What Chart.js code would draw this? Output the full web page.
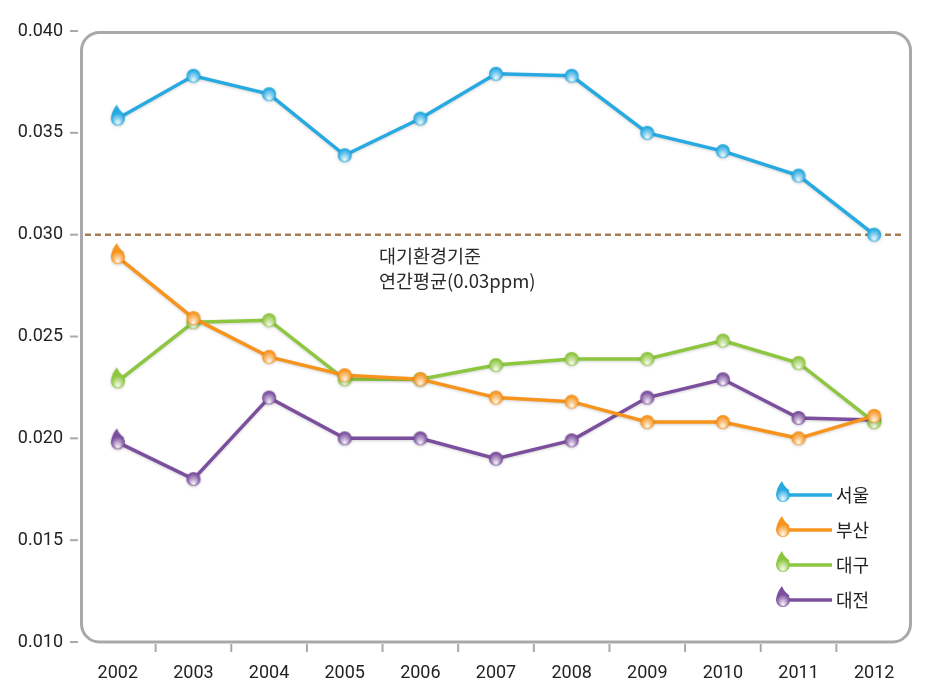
<!DOCTYPE html>
<html>
<head>
<meta charset="utf-8">
<script src="https://cdn.jsdelivr.net/npm/chart.js@4"></script>
<style>
  body { margin: 0; background: #fff; }
</style>
</head>
<body>
<canvas id="no2-chart" width="939" height="692"></canvas>
<script>
const years = ["2002", "2003", "2004", "2005", "2006", "2007", "2008", "2009", "2010", "2011", "2012"];
const seoul = [0.0357, 0.0378, 0.0369, 0.0339, 0.0357, 0.0379, 0.0378, 0.0350, 0.0341, 0.0329, 0.0300];
const busan = [0.0289, 0.0259, 0.0240, 0.0231, 0.0229, 0.0220, 0.0218, 0.0208, 0.0208, 0.0200, 0.0211];
const daegu = [0.0228, 0.0257, 0.0258, 0.0229, 0.0229, 0.0236, 0.0239, 0.0239, 0.0248, 0.0237, 0.0208];
const daejeon = [0.0198, 0.0180, 0.0220, 0.0200, 0.0200, 0.0190, 0.0199, 0.0220, 0.0229, 0.0210, 0.0209];
const seriesNames = ["서울", "부산", "대구", "대전"];
const seriesColors = ["#27aae1", "#f7941d", "#8dc63f", "#7b4f9d"];
const standardValue = 0.030;
const standardText = ["대기환경기준", "연간평균(0.03ppm)"];

const korFont = "'Noto Sans CJK KR', 'Noto Sans', sans-serif";

// glossy droplet / ball markers
var makeMarker = function (color, drop) {
  var c = document.createElement("canvas");
  c.width = 20;
  c.height = 32;
  var g = c.getContext("2d");
  var grad = g.createRadialGradient(10, 21, 0, 10, 15, 9);
  grad.addColorStop(0, "rgba(255,255,255,0.95)");
  grad.addColorStop(0.7, color);
  grad.addColorStop(1, color);
  g.fillStyle = grad;
  g.beginPath();
  if (drop) {
    g.moveTo(9, 2);
    g.quadraticCurveTo(10.5, 7, 16.5, 11.5);
    g.arc(10, 16, 7, -0.6, Math.PI + 0.2, false);
    g.quadraticCurveTo(4, 8, 9, 2);
  } else {
    g.arc(10, 16, 7, 0, Math.PI * 2);
  }
  g.fill();
  return c;
};

const dropMarkers = seriesColors.map((c) => makeMarker(c, true));
const ballMarkers = seriesColors.map((c) => makeMarker(c, false));

const allSeries = [seoul, busan, daegu, daejeon];

var frame = {
  id: "frame",
  beforeDatasetsDraw(chart) {
    const { ctx, chartArea: a, scales } = chart;
    ctx.save();
    ctx.strokeStyle = "#a9a9a9";
    ctx.lineWidth = 3;
    ctx.beginPath();
    ctx.roundRect(a.left + 1.5, a.top + 1.5, a.right - a.left - 3, a.bottom - a.top - 1.5, 18);
    ctx.stroke();

    // y tick marks
    ctx.lineWidth = 2;
    scales.y.ticks.forEach((t) => {
      const y = scales.y.getPixelForValue(t.value);
      ctx.beginPath();
      ctx.moveTo(a.left - 10, y);
      ctx.lineTo(a.left - 2, y);
      ctx.stroke();
    });
    // x tick marks between years
    for (let i = 0; i < years.length - 1; i++) {
      const x = (scales.x.getPixelForValue(i) + scales.x.getPixelForValue(i + 1)) / 2;
      ctx.beginPath();
      ctx.moveTo(x, a.bottom + 2);
      ctx.lineTo(x, a.bottom + 10);
      ctx.stroke();
    }

    // standard line
    const sy = scales.y.getPixelForValue(standardValue);
    ctx.strokeStyle = "#a67c52";
    ctx.lineWidth = 2.5;
    ctx.setLineDash([6, 4]);
    ctx.beginPath();
    ctx.moveTo(a.left + 5, sy);
    ctx.lineTo(a.right - 8, sy);
    ctx.stroke();
    ctx.setLineDash([]);

    ctx.fillStyle = "#2a2a2a";
    ctx.font = "18.5px " + korFont;
    ctx.textBaseline = "middle";
    ctx.fillText(standardText[0], 379, sy + 21);
    ctx.fillText(standardText[1], 379, sy + 46);
    ctx.restore();
  },
  beforeDatasetDraw(chart) {
    chart.ctx.save();
    chart.ctx.shadowColor = "rgba(0,0,0,0.18)";
    chart.ctx.shadowBlur = 3;
    chart.ctx.shadowOffsetY = 1;
  },
  afterDatasetDraw(chart) {
    chart.ctx.restore();
  },
  afterDraw(chart) {
    const ctx = chart.ctx;
    ctx.save();
    seriesNames.forEach((name, i) => {
      const y = 495 + i * 35;
      ctx.strokeStyle = seriesColors[i];
      ctx.lineWidth = 3.5;
      ctx.beginPath();
      ctx.moveTo(786, y);
      ctx.lineTo(832, y);
      ctx.stroke();
      ctx.drawImage(dropMarkers[i], 783 - 10, y - 16);
      ctx.fillStyle = "#222";
      ctx.font = "18px " + korFont;
      ctx.textBaseline = "middle";
      ctx.fillText(name, 836, y);
    });
    ctx.restore();
  },
};

new Chart("no2-chart", {
  type: "line",
  data: {
    labels: years,
    datasets: allSeries.map((values, i) => ({
      label: seriesNames[i],
      data: values,
      borderColor: seriesColors[i],
      borderWidth: 3.5,
      tension: 0,
      pointStyle: (c) => (c.dataIndex === 0 ? dropMarkers[i] : ballMarkers[i]),
    })),
  },
  options: {
    responsive: false,
    animation: false,
    layout: { padding: { top: 31, right: 27 } },
    plugins: {
      legend: { display: false },
      tooltip: { enabled: false },
    },
    scales: {
      x: {
        offset: true,
        grid: { display: false },
        border: { display: false },
        ticks: {
          color: "#222",
          padding: 13,
          font: { family: "Roboto", size: 18 },
        },
        afterFit(s) { s.height = 50; },
      },
      y: {
        min: 0.010,
        max: 0.040,
        grid: { display: false },
        border: { display: false },
        ticks: {
          stepSize: 0.005,
          color: "#222",
          padding: 9,
          font: { family: "Roboto", size: 18 },
          callback: (v) => v.toFixed(3),
        },
        afterFit(s) { s.width = 80; },
      },
    },
  },
  plugins: [frame],
});
</script>
</body>
</html>
